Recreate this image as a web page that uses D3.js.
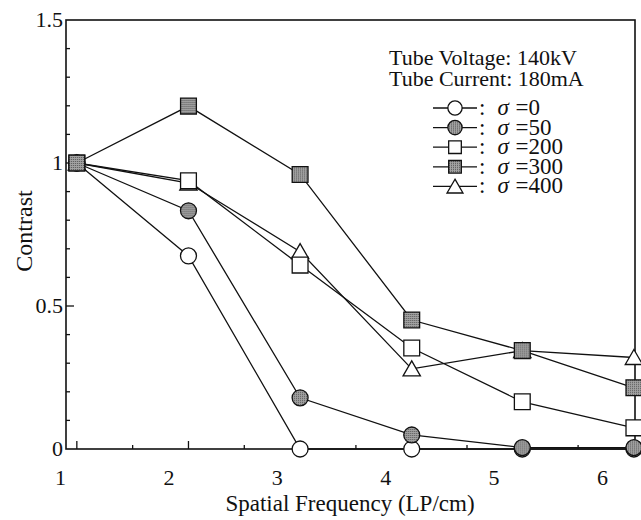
<!DOCTYPE html>
<html>
<head>
<meta charset="utf-8">
<script src="https://cdn.jsdelivr.net/npm/d3@7"></script>
<style>
  body { margin: 0; background: #fff; }
  svg text { font-family: "Liberation Serif", "Times New Roman", serif; fill: #111; }
</style>
</head>
<body>
<div id="chart"></div>
<script>
// spatial frequency of each sample (LP/cm)
const freq = [1.15, 2.18, 3.21, 4.24, 5.26, 6.29];

const sigma0 = [1.0, 0.675, 0, 0, 0, 0];
const sigma50 = [1.0, 0.833, 0.179, 0.049, 0.005, 0.005];
const sigma200 = [1.0, 0.938, 0.643, 0.353, 0.165, 0.074];
const sigma300 = [1.0, 1.199, 0.96, 0.451, 0.344, 0.214];
const sigma400 = [1.0, 0.93, 0.69, 0.28, 0.344, 0.32];

const xTickLabels = [1, 2, 3, 4, 5, 6];
const yTickLabels = [0, 0.5, 1, 1.5];
const legendNames = ["σ =0", "σ =50", "σ =200", "σ =300", "σ =400"];

const width = 641;
const height = 520;
const margin = { top: 20, right: 6, bottom: 71, left: 66 };

const svg = d3.select("#chart")
  .append("svg")
  .attr("width", width)
  .attr("height", height);

// stippled gray like the printed figure
const pat = svg.append("defs").append("pattern")
  .attr("id", "stipple")
  .attr("width", 2).attr("height", 2)
  .attr("patternUnits", "userSpaceOnUse");
pat.append("rect").attr("width", 2).attr("height", 2).attr("fill", "#a2a2a2");
pat.append("rect").attr("width", 1).attr("height", 1).attr("fill", "#555");
const gray = "url(#stipple)";

const x = d3.scaleLinear()
  .domain([1.05, 6.30])
  .range([margin.left, width - margin.right]);

const y = d3.scaleLinear()
  .domain([0, 1.5])
  .range([height - margin.bottom, margin.top]);

// frame
svg.append("rect")
  .attr("x", x(1.05)).attr("y", y(1.5))
  .attr("width", x(6.30) - x(1.05))
  .attr("height", y(0) - y(1.5))
  .attr("fill", "none")
  .attr("stroke", "#111")
  .attr("stroke-width", 1.6);

// y ticks, inward
const yMinor = d3.range(1, 15).map(d => d / 10);
svg.append("g")
  .selectAll("line")
  .data(yMinor)
  .join("line")
    .attr("x1", x(1.05))
    .attr("x2", d => x(1.05) + (Math.abs(d * 2 - Math.round(d * 2)) < 1e-6 ? 8 : 4))
    .attr("y1", d => y(d))
    .attr("y2", d => y(d))
    .attr("stroke", "#111")
    .attr("stroke-width", 1.3);

svg.append("g")
  .selectAll("text")
  .data(yTickLabels)
  .join("text")
    .attr("x", x(1.05) - 3)
    .attr("y", d => y(d) + 7)
    .attr("text-anchor", "end")
    .attr("font-size", 22)
    .text(d => d);

// x ticks: major at samples, minor between
const xMinor = freq.slice(0, -1).map((d, i) => (d + freq[i + 1]) / 2);
svg.append("g")
  .selectAll("line")
  .data(freq.map(d => [d, 8]).concat(xMinor.map(d => [d, 4])))
  .join("line")
    .attr("x1", d => x(d[0]))
    .attr("x2", d => x(d[0]))
    .attr("y1", y(0))
    .attr("y2", d => y(0) - d[1])
    .attr("stroke", "#111")
    .attr("stroke-width", 1.3);

svg.append("g")
  .selectAll("text")
  .data(xTickLabels)
  .join("text")
    .attr("x", d => x(d))
    .attr("y", 485)
    .attr("text-anchor", "middle")
    .attr("font-size", 22)
    .text(d => d);

svg.append("text")
  .attr("x", 350)
  .attr("y", 511)
  .attr("text-anchor", "middle")
  .attr("font-size", 23)
  .text("Spatial Frequency (LP/cm)");

svg.append("text")
  .attr("transform", "translate(32,231) rotate(-90)")
  .attr("text-anchor", "middle")
  .attr("font-size", 24)
  .text("Contrast");

// series, drawn so that squares sit on top
const series = [
  { name: legendNames[4], values: sigma400, shape: "triangle", fill: "#fff" },
  { name: legendNames[0], values: sigma0, shape: "circle", fill: "#fff" },
  { name: legendNames[1], values: sigma50, shape: "circle", fill: gray },
  { name: legendNames[2], values: sigma200, shape: "square", fill: "#fff" },
  { name: legendNames[3], values: sigma300, shape: "square", fill: gray },
];

const symbolFor = {
  circle: d3.symbol(d3.symbolCircle, 200),
  square: d3.symbol(d3.symbolSquare, 250),
  triangle: d3.symbol(d3.symbolTriangle, 130),
};

const line = d3.line()
  .x((d, i) => x(freq[i]))
  .y(d => y(d));

series.forEach(s => {
  svg.append("path")
    .attr("d", line(s.values))
    .attr("fill", "none")
    .attr("stroke", "#111")
    .attr("stroke-width", 1.3);
});

series.forEach(s => {
  svg.append("g")
    .selectAll("path")
    .data(s.values)
    .join("path")
      .attr("transform", (d, i) => `translate(${x(freq[i])},${y(d) + (s.shape === "triangle" ? 2 : 0)})`)
      .attr("d", symbolFor[s.shape]())
      .attr("fill", s.fill)
      .attr("stroke", "#111")
      .attr("stroke-width", 1.3);
});

// legend
const legend = svg.append("g");
legend.append("text")
  .attr("x", 389).attr("y", 65)
  .attr("font-size", 22)
  .text("Tube Voltage: 140kV");
legend.append("text")
  .attr("x", 389).attr("y", 86)
  .attr("font-size", 22)
  .text("Tube Current: 180mA");

const legendOrder = [series[1], series[2], series[3], series[4], series[0]];
const rows = legend.selectAll("g.row")
  .data(legendOrder)
  .join("g")
    .attr("class", "row")
    .attr("transform", (d, i) => `translate(455,${108 + i * 19.6})`);

rows.append("line")
  .attr("x1", -22).attr("x2", 22)
  .attr("stroke", "#111")
  .attr("stroke-width", 1.3);

rows.append("path")
  .attr("d", d => symbolFor[d.shape].size(d.shape === "triangle" ? 110 : 160)())
  .attr("transform", d => d.shape === "triangle" ? "translate(0,2)" : null)
  .attr("fill", d => d.fill)
  .attr("stroke", "#111")
  .attr("stroke-width", 1.3);

rows.append("text")
  .attr("x", 24)
  .attr("y", 7)
  .attr("font-size", 23)
  .each(function (d) {
    const t = d3.select(this);
    t.append("tspan").text(":");
    t.append("tspan").attr("dx", 12).attr("font-style", "italic").text("σ");
    t.append("tspan").attr("dx", 1).text(d.name.slice(1));
  });
</script>
</body>
</html>
